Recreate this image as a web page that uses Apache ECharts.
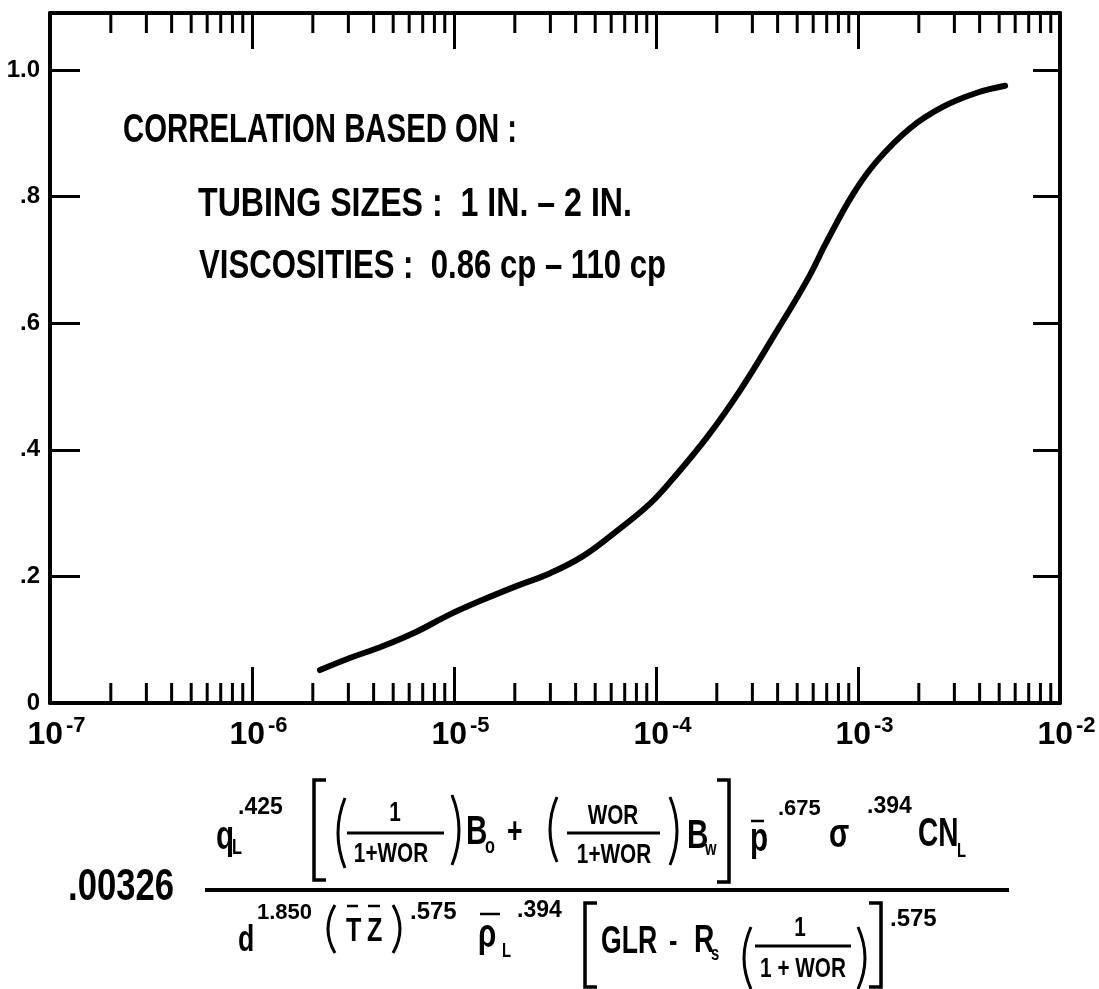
<!DOCTYPE html>
<html>
<head>
<meta charset="utf-8">
<script src="https://cdn.jsdelivr.net/npm/echarts@6/dist/echarts.min.js"></script>
<style>
  html, body { margin: 0; padding: 0; background: #fff; }
  #chart { width: 1099px; height: 989px; }
</style>
</head>
<body>
<div id="chart"></div>
<script>
// curve (x is the dimensionless group, y the holdup factor)
var curveX = [2.17e-6, 3.05e-6, 4.46e-6, 6.56e-6, 9.55e-6, 1.39e-5, 2.05e-5, 2.99e-5, 4.35e-5,
              6.41e-5, 9.34e-5, 1.21e-4, 1.79e-4, 2.61e-4, 3.80e-4, 5.60e-4, 7.03e-4, 9.45e-4,
              1.24e-3, 1.81e-3, 2.64e-3, 3.88e-3, 5.35e-3];
var curveY = [0.052, 0.071, 0.090, 0.113, 0.140, 0.163, 0.185, 0.205, 0.232,
              0.272, 0.315, 0.354, 0.420, 0.494, 0.578, 0.668, 0.730, 0.804,
              0.856, 0.908, 0.942, 0.964, 0.975];
var decades = [1e-7, 1e-6, 1e-5, 1e-4, 1e-3];
var minorSteps = [2, 3, 4, 5, 6, 7, 8, 9];
var yLabels = { 0: '0', 0.2: '.2', 0.4: '.4', 0.6: '.6', 0.8: '.8', 1: '1.0' };
var notes = ['CORRELATION BASED ON :', 'TUBING SIZES :  1 IN. \u2013 2 IN.', 'VISCOSITIES :  0.86 cp \u2013 110 cp'];

var X_MIN = 1e-7, X_MAX = 1e-2, Y_MAX = 1.09;
var FONT = '"Liberation Sans", Arial, sans-serif';

var curve = [];
for (var i = 0; i < curveX.length; i++) curve.push([curveX[i], curveY[i]]);
var minor = [];
decades.forEach(function (d) {
    minorSteps.forEach(function (k) { minor.push([k * d, 0]); });
});

// ---- helpers for the lettering ----
var measure = document.createElement('canvas').getContext('2d');
function fitTo(s, size, w) {
    measure.font = 'bold ' + size + 'px ' + FONT;
    return w / measure.measureText(s).width;
}
function txt(s, x, y, size, opts) {
    opts = opts || {};
    return {
        type: 'text', x: x, y: y, scaleX: opts.sx || 0.74, silent: true,
        style: {
            text: s, fill: '#000',
            font: 'bold ' + size + 'px ' + FONT,
            textAlign: opts.align || 'left', textVerticalAlign: 'middle'
        }
    };
}
function sup(s, x, y, size) { return txt(s, x, y, size, { sx: 1 }); }
function ln(x1, y1, x2, y2, w) {
    return { type: 'line', silent: true, shape: { x1: x1, y1: y1, x2: x2, y2: y2 }, style: { stroke: '#000', lineWidth: w || 3 } };
}
function paren(x, y1, y2, dir) {
    return { type: 'bezierCurve', silent: true,
        shape: { x1: x, y1: y1, x2: x, y2: y2, cpx1: x - dir * 14, cpy1: (y1 + y2) / 2 },
        style: { stroke: '#000', lineWidth: 3, fill: null } };
}
function bracket(x, y1, y2, dir) {
    return { type: 'polyline', silent: true,
        shape: { points: [[x + dir * 12, y1], [x, y1], [x, y2], [x + dir * 12, y2]] },
        style: { stroke: '#000', lineWidth: 3.5, fill: null } };
}

var formula = [
    txt('.00326', 68, 888, 44, { sx: fitTo('.00326', 44, 106) }),
    ln(205, 890, 1009, 890, 4),
    // numerator
    txt('q', 216, 838, 40), txt('L', 232, 848, 22), sup('.425', 238, 808, 23),
    bracket(314, 780, 880, 1),
    paren(345, 798, 868, 1),
    txt('1', 395, 813, 28, { align: 'center' }), ln(347, 833, 444, 833), txt('1+WOR', 391, 854, 28, { align: 'center' }),
    paren(452, 795, 865, -1),
    txt('B', 466, 833, 40), txt('o', 485, 847, 22),
    txt('+', 507, 833, 36),
    paren(557, 797, 862, 1),
    txt('WOR', 613, 816, 28, { align: 'center' }), ln(567, 833, 660, 833), txt('1+WOR', 614, 855, 28, { align: 'center' }),
    paren(670, 797, 865, -1),
    txt('B', 687, 837, 40), txt('w', 705, 849, 20),
    bracket(729, 780, 882, -1),
    txt('p', 750, 840, 40), ln(751, 821, 764, 821, 2.5), sup('.675', 778, 809, 22),
    txt('\u03c3', 829, 836, 40), sup('.394', 867, 807, 23),
    txt('CN', 918, 835, 40, { sx: 0.7 }), txt('L', 957, 851, 20),
    // denominator
    txt('d', 238, 941, 36), sup('1.850', 257, 913, 22),
    paren(335, 905, 953, 1),
    txt('T', 346, 932, 34), ln(347, 906, 358, 906, 2.5),
    txt('Z', 367, 932, 34), ln(368, 906, 380, 906, 2.5),
    paren(393, 905, 953, -1),
    sup('.575', 410, 912, 24),
    txt('\u03c1', 478, 936, 40), ln(480, 914, 500, 914, 2.5), txt('L', 502, 951, 20), sup('.394', 517, 911, 23),
    bracket(585, 903, 987, 1),
    txt('GLR', 601, 943, 38, { sx: 0.7 }), txt('-', 669, 943, 34),
    txt('R', 694, 942, 38), txt('s', 711, 954, 20),
    paren(751, 927, 989, 1),
    txt('1', 800, 928, 28, { align: 'center' }), ln(755, 946, 851, 946), txt('1 + WOR', 803, 969, 28, { align: 'center' }),
    paren(858, 927, 989, -1),
    bracket(881, 903, 987, -1),
    sup('.575', 890, 919, 24)
];

var annot = [
    txt(notes[0], 123, 131, 40, { sx: fitTo(notes[0], 40, 394) }),
    txt(notes[1], 198, 205, 40, { sx: fitTo(notes[1], 40, 434) }),
    txt(notes[2], 199, 267, 40, { sx: fitTo(notes[2], 40, 467) })
];

var chart = echarts.init(document.getElementById('chart'));

function xAxisOf(pos, showLabel) {
    return {
        type: 'log', logBase: 10, min: X_MIN, max: X_MAX, splitNumber: 5, position: pos,
        axisLine: { show: true, onZero: false, lineStyle: { color: '#000', width: 4 } },
        axisTick: { show: true, inside: true, length: 36, lineStyle: { color: '#000', width: 3 } },
        splitLine: { show: false },
        axisLabel: {
            show: showLabel, margin: 12,
            formatter: function (v) {
                var e = Math.round(Math.log(v) / Math.LN10);
                return '{b|10}{s|' + (e < 0 ? '-' : '') + Math.abs(e) + '}';
            },
            rich: {
                b: { fontSize: 32, fontWeight: 'bold', fontFamily: FONT, color: '#000', lineHeight: 36, verticalAlign: 'bottom', padding: [0, 0, 0, 13] },
                s: { fontSize: 22, fontWeight: 'bold', fontFamily: FONT, color: '#000', lineHeight: 36, verticalAlign: 'top', padding: [0, 0, 0, 3] }
            }
        }
    };
}
function yAxisOf(pos, showLabel, len) {
    return {
        type: 'value', min: 0, max: Y_MAX, interval: 0.2, position: pos,
        axisLine: { show: true, onZero: false, lineStyle: { color: '#000', width: 4 } },
        axisTick: { show: true, inside: true, length: len, lineStyle: { color: '#000', width: 3 } },
        splitLine: { show: false },
        axisLabel: {
            show: showLabel, margin: 10, color: '#000', fontSize: 24, fontWeight: 'bold', fontFamily: FONT,
            formatter: function (v) {
                var key = Math.round(v * 10) / 10;
                return v > 1.0001 ? '' : (yLabels[key] || '');
            }
        }
    };
}

chart.setOption({
    animation: false,
    backgroundColor: '#fff',
    grid: { left: 50, right: 39, top: 13, bottom: 286 },
    xAxis: [xAxisOf('bottom', true), xAxisOf('top', false)],
    yAxis: [yAxisOf('left', true, 30), yAxisOf('right', false, 27)],
    graphic: annot.concat(formula),
    series: [
        {
            name: 'minor ticks', type: 'custom', xAxisIndex: 0, yAxisIndex: 0, silent: true, clip: false,
            data: minor,
            renderItem: function (params, api) {
                var v = api.value(0);
                var b = api.coord([v, 0]);
                var t = api.coord([v, Y_MAX]);
                return {
                    type: 'group', children: [
                        { type: 'line', shape: { x1: b[0], y1: b[1], x2: b[0], y2: b[1] - 20 }, style: { stroke: '#000', lineWidth: 3 } },
                        { type: 'line', shape: { x1: t[0], y1: t[1], x2: t[0], y2: t[1] + 20 }, style: { stroke: '#000', lineWidth: 3 } }
                    ]
                };
            }
        },
        {
            name: 'correlation', type: 'line', xAxisIndex: 0, yAxisIndex: 0,
            data: curve, smooth: 0.4, showSymbol: false, symbol: 'none',
            lineStyle: { color: '#000', width: 6, cap: 'round' }
        }
    ]
});
</script>
</body>
</html>
